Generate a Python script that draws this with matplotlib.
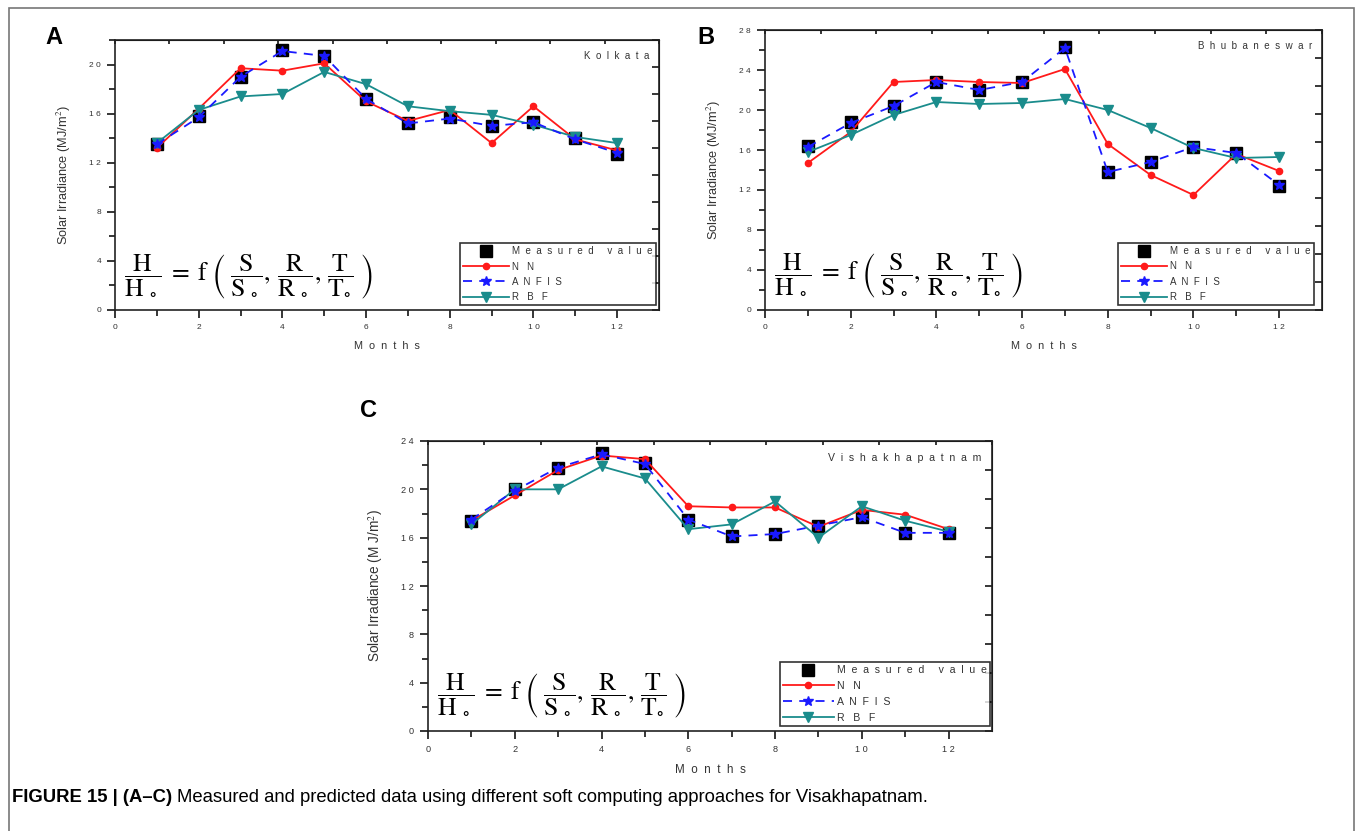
import numpy as np
import matplotlib
matplotlib.use("Agg")
import matplotlib.pyplot as plt
from matplotlib.lines import Line2D
from matplotlib.patches import Rectangle

plt.rcParams["font.family"] = ["Liberation Sans", "DejaVu Sans"]
plt.rcParams["mathtext.fontset"] = "stix"

W, H = 1357, 831
months = list(range(1, 13))

# Kolkata
kol_measured = [13.5, 15.8, 19.0, 21.2, 20.7, 17.2, 15.2, 15.7, 15.0, 15.3, 14.0, 12.7]
kol_nn       = [13.2, 16.4, 19.7, 19.5, 20.1, 17.0, 15.4, 16.3, 13.6, 16.6, 13.9, 13.0]
kol_anfis    = [13.5, 15.7, 19.0, 21.1, 20.7, 17.2, 15.2, 15.6, 15.0, 15.3, 13.9, 12.8]
kol_rbf      = [13.6, 16.3, 17.4, 17.6, 19.4, 18.4, 16.6, 16.2, 15.9, 15.1, 14.1, 13.6]

# Bhubaneswar
bhu_measured = [16.4, 18.8, 20.4, 22.8, 22.0, 22.8, 26.3, 13.8, 14.8, 16.3, 15.7, 12.4]
bhu_nn       = [14.7, 17.8, 22.8, 23.0, 22.8, 22.7, 24.1, 16.6, 13.5, 11.5, 15.6, 13.9]
bhu_anfis    = [16.3, 18.7, 20.4, 22.8, 22.0, 22.8, 26.2, 13.8, 14.8, 16.3, 15.7, 12.5]
bhu_rbf      = [15.8, 17.5, 19.5, 20.8, 20.6, 20.7, 21.1, 20.0, 18.2, 16.2, 15.2, 15.3]

# Vishakhapatnam
vis_measured = [17.4, 20.0, 21.8, 23.0, 22.2, 17.5, 16.1, 16.3, 17.0, 17.7, 16.4, 16.4]
vis_nn       = [17.4, 19.5, 21.6, 22.8, 22.5, 18.6, 18.5, 18.5, 16.9, 18.3, 17.9, 16.7]
vis_anfis    = [17.5, 19.9, 21.8, 22.9, 22.1, 17.5, 16.1, 16.3, 17.0, 17.7, 16.4, 16.4]
vis_rbf      = [17.1, 20.0, 20.0, 21.9, 20.9, 16.7, 17.1, 19.0, 16.0, 18.6, 17.4, 16.5]

PANELS = [
    {"letter": "A", "city": "Kolkata", "box": (115, 659, 40, 310), "ymax": 22,
     "data": (kol_measured, kol_nn, kol_anfis, kol_rbf), "ylabel": "Solar Irradiance (MJ/m$^{2}$)",
     "letter_xy": (45, 38), "fs": 7.0, "leg_x": 0.994},
    {"letter": "B", "city": "Bhubaneswar", "box": (765, 1322, 30, 310), "ymax": 28,
     "data": (bhu_measured, bhu_nn, bhu_anfis, bhu_rbf), "ylabel": "Solar Irradiance (MJ/m$^{2}$)",
     "letter_xy": (697, 38), "fs": 7.0, "leg_x": 0.985},
    {"letter": "C", "city": "Vishakhapatnam", "box": (428, 992, 441, 731), "ymax": 24,
     "data": (vis_measured, vis_nn, vis_anfis, vis_rbf), "ylabel": "Solar Irradiance (M J/m$^{2}$)",
     "letter_xy": (360, 410), "fs": 7.6, "leg_x": 0.996},
]

RED, BLUE, TEAL = "#ff1a1a", "#1a1aff", "#1a8c8c"
TXT = "#333333"
FORMULA = (r"$\dfrac{\mathrm{H}}{\mathrm{H}_{\;\circ}}\;=\;\mathrm{f}\;\left(\;"
           r"\dfrac{\mathrm{S}}{\mathrm{S}_{\,\circ}},\,"
           r"\dfrac{\mathrm{R}}{\mathrm{R}_{\;\circ}},\,"
           r"\dfrac{\mathrm{T}}{\mathrm{T}_{\circ}}\;\right)$")


def spaced(s, gap=" "):
    return gap.join(s)


fig = plt.figure(figsize=(W / 100, H / 100), dpi=100)

# light frame round the figure
fig.patches.append(Rectangle((9 / W, -0.01), (1354 - 9) / W, 1 - 8 / H + 0.01,
                             transform=fig.transFigure, fill=False,
                             edgecolor="#777777", lw=1.2))

for p in PANELS:
    l, r, t, b = p["box"]
    ax = fig.add_axes([l / W, 1 - b / H, (r - l) / W, (b - t) / H])
    measured, nn, anfis, rbf = p["data"]
    fs = p["fs"]

    ax.plot(months, measured, ls="none", marker="s", ms=8, color="black", zorder=3)
    ax.plot(months, nn, color=RED, lw=1.3, marker="o", ms=4.5, zorder=4)
    ax.plot(months, rbf, color=TEAL, lw=1.3, marker="v", ms=7, zorder=4)
    ax.plot(months, anfis, color=BLUE, lw=1.3, ls=(0, (5, 4)), marker="*", ms=7, zorder=5)

    ax.set_xlim(0, 13)
    ax.set_ylim(0, p["ymax"])
    ax.set_xticks(range(0, 13, 2))
    ax.set_xticklabels([spaced(str(v)) for v in range(0, 13, 2)])
    ax.set_xticks(range(1, 13, 2), minor=True)
    yt = list(range(0, p["ymax"] + 1, 4))
    ax.set_yticks(yt)
    ax.set_yticklabels([spaced(str(v)) for v in yt])
    ax.set_yticks(range(2, p["ymax"] + 1, 4), minor=True)
    ax.tick_params(which="major", direction="out", length=6, width=1.1,
                   labelsize=fs - 1.0, labelcolor=TXT, pad=4)
    ax.tick_params(which="minor", direction="out", length=4, width=1.1)
    for s in ax.spines.values():
        s.set_linewidth(1.2)
        s.set_color("#222222")

    # Origin-style ticks on the top and right sides
    sy = ax.secondary_yaxis("right")
    sy.set_yticks(np.linspace(0, p["ymax"], 11))
    sy.set_yticklabels([])
    sy.tick_params(direction="in", length=5, width=1.1)
    sx = ax.secondary_xaxis("top")
    sx.set_xticks(np.linspace(0, 13, 11))
    sx.set_xticklabels([])
    sx.tick_params(direction="in", length=3, width=1.1)

    ax.set_xlabel(spaced("Months", "  "), fontsize=fs + 0.8, color=TXT, labelpad=7)
    ax.set_ylabel(p["ylabel"], fontsize=fs + 2.2, color=TXT, labelpad=12)

    ax.text(0.982, 0.96, spaced(p["city"], "  "), transform=ax.transAxes,
            ha="right", va="top", fontsize=fs, color=TXT)

    ax.text(0.016, 0.12, FORMULA, transform=ax.transAxes, ha="left", va="center",
            fontsize=18.5, color="black")

    handles = [
        Line2D([], [], ls="none", marker="s", ms=8, color="black"),
        Line2D([], [], color=RED, lw=1.3, marker="o", ms=4.5),
        Line2D([], [], color=BLUE, lw=1.3, ls=(0, (5, 4)), marker="*", ms=7),
        Line2D([], [], color=TEAL, lw=1.3, marker="v", ms=7),
    ]
    labels = [spaced("Measured", "  ") + "     " + spaced("value", "  "),
              spaced("NN", "   "), spaced("ANFIS", "  "), spaced("RBF", "   ")]
    leg = ax.legend(handles, labels, loc="lower right", bbox_to_anchor=(p["leg_x"], 0.018),
                    fontsize=fs, frameon=True, fancybox=False, handlelength=4.8,
                    handletextpad=0.3, labelspacing=0.55, borderpad=0.3,
                    borderaxespad=0)
    leg.get_frame().set_edgecolor("black")
    leg.get_frame().set_linewidth(1.2)
    for txt in leg.get_texts():
        txt.set_color(TXT)

    lx, ly = p["letter_xy"]
    fig.text(lx / W, 1 - ly / H, p["letter"], fontsize=17, fontweight="bold",
             ha="left", va="center")

# caption: bold lead-in followed by regular text
cap_y = 1 - 798 / H
bold = fig.text(12 / W, cap_y, "FIGURE 15 | (A\u2013C)", fontsize=13.3, fontweight="bold",
                ha="left", va="center")
fig.canvas.draw()
bb = bold.get_window_extent(renderer=fig.canvas.get_renderer())
fig.text((bb.x1 + 5) / W, cap_y,
         "Measured and predicted data using different soft computing approaches for Visakhapatnam.",
         fontsize=13.3, ha="left", va="center")

fig.savefig("out.png", dpi=100)
